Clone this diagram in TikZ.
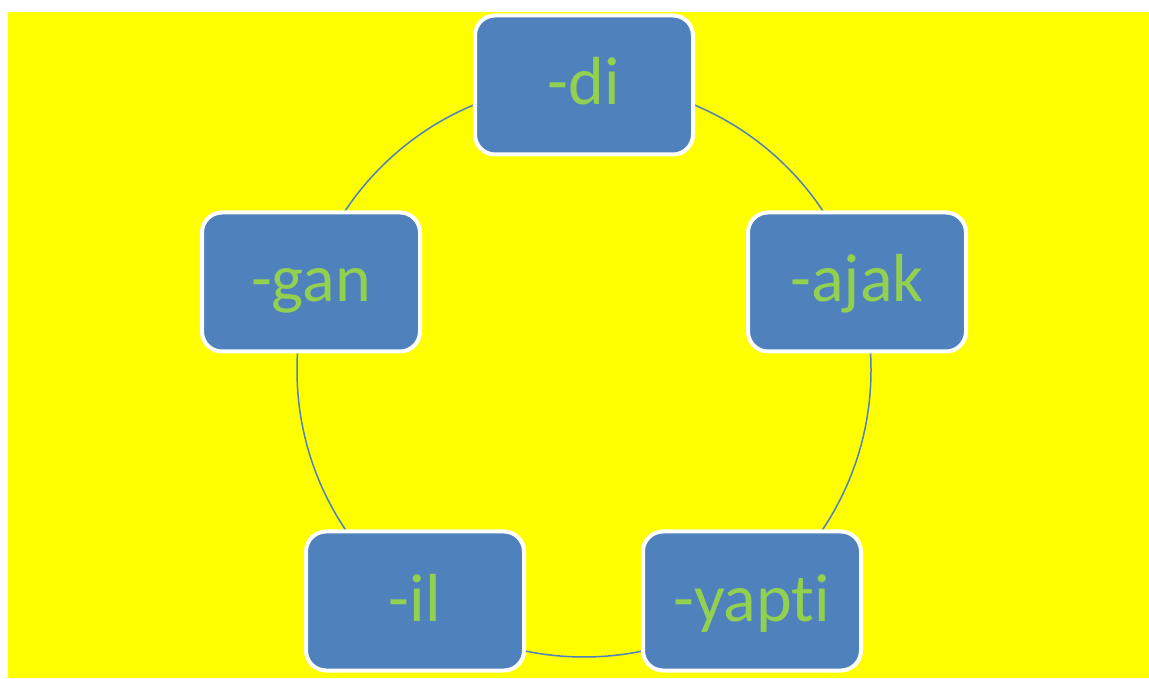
\documentclass[tikz,border=0pt]{standalone}
\usepackage{fontspec}
\setmainfont[Ligatures=NoCommon]{Carlito}
\definecolor{bg}{RGB}{255,255,0}
\definecolor{boxblue}{RGB}{79,129,189}
\definecolor{txtgreen}{RGB}{146,208,80}
\tikzset{
  x=1pt,y=1pt,
  cyclebox/.style={draw=white, line width=4pt, fill=boxblue, rounded corners=20pt,
    minimum width=218pt, minimum height=139pt, inner sep=0pt,
    text height=50pt, text depth=10pt,
    text=txtgreen, font=\fontsize{68}{68}\selectfont},
  ring/.style={draw=boxblue, line width=1.5pt}
}
\begin{document}
\begin{tikzpicture}
\useasboundingbox (0,0) rectangle (1149,678);
\fill[white] (0,0) rectangle (1149,678);
\fill[bg] (8,0) rectangle (1149,666);
\coordinate (center) at (584,308);
\draw[ring] (center) circle[radius=287];
\node[cyclebox] (di) at (584,593) {-di};
\node[cyclebox] (ajak) at (857,396) {-ajak};
\node[cyclebox] (yapti) at (752,77) {-yapti};
\node[cyclebox] (il) at (415,77) {-il};
\node[cyclebox] (gan) at (311,396) {-gan};
\end{tikzpicture}
\end{document}
